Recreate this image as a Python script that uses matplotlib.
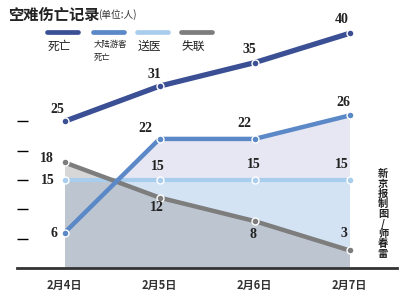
import matplotlib
matplotlib.use("Agg")
import matplotlib.pyplot as plt
from matplotlib.lines import Line2D

plt.rcParams['font.family'] = ['Noto Sans CJK SC', 'DejaVu Sans']

dates = ['2月4日', '2月5日', '2月6日', '2月7日']
deaths = [25, 31, 35, 40]
mainland_deaths = [6, 22, 22, 26]
hospital = [15, 15, 15, 15]
missing = [18, 12, 8, 3]
names = ['死亡', '大陆游客\n死亡', '送医', '失联']

c_death = '#3b4f95'
c_main = '#5b88c6'
c_hosp = '#a9cdec'
c_miss = '#7d7d7d'
colors = [c_death, c_main, c_hosp, c_miss]

fig = plt.figure(figsize=(4, 2.92), dpi=100)
ax = fig.add_axes([17 / 400, 24 / 292, 380 / 400, 264 / 292])
ax.set_xlim(-0.5, 3.5)
ax.set_ylim(0, 45)
ax.patch.set_alpha(0)

x = list(range(len(dates)))

# fills
ax.fill_between(x, mainland_deaths, 0, color='#e7e7f3', lw=0, zorder=1)
ax.fill_between(x, hospital, 0, color='#d3e3f3', lw=0, zorder=2)
ax.fill_between(x, missing, 0, color='#a0a0a0', alpha=0.42, lw=0, zorder=3)

# lines
def draw(vals, col, lw, z):
    ax.plot(x, vals, color=col, lw=lw, solid_capstyle='butt', zorder=z)
    ax.plot(x, vals, 'o', ms=5, mfc=col, mec='white', mew=1.0, zorder=z + 0.5)

draw(hospital, c_hosp, 3.0, 4)
draw(missing, c_miss, 3.2, 5)
draw(mainland_deaths, c_main, 3.2, 6)
draw(deaths, c_death, 3.8, 7)

# value labels (offsets in pixels)
off_death = [(-7, 12), (-5, 12), (-5, 13), (-8, 14)]
off_main = [(-11, -1), (-14, 10), (-10, 15), (-6, 13)]
off_hosp = [(-17, 0), (-2, 14), (-1, 16), (-8, 15)]
off_miss = [(-18, 4), (-3, -10), (-1, -13), (-6, 17)]
lab_font = dict(family='Liberation Serif', weight='bold', size=10, color='#222222',
                ha='center', va='center', zorder=10)
for vals, offs in [(deaths, off_death), (mainland_deaths, off_main),
                   (hospital, off_hosp), (missing, off_miss)]:
    for xi, v, o in zip(x, vals, offs):
        ax.annotate(str(v), (xi, v), xytext=o, textcoords='offset pixels', **lab_font)

# axes styling
for s in ['top', 'right', 'left']:
    ax.spines[s].set_visible(False)
ax.spines['bottom'].set_color('#333333')
ax.spines['bottom'].set_linewidth(2)
ax.spines['bottom'].set_zorder(11)

ax.set_xticks(x)
ax.set_xticklabels(dates, fontsize=8, fontweight='bold', color='#333333')
ax.tick_params(axis='x', which='major', length=0, pad=8)
ax.set_xticks([0.5, 1.5], minor=True)
ax.tick_params(axis='x', which='minor', direction='in', length=6, width=1.2, color='#333333')

ax.set_yticks([5, 10, 15, 20, 25])
ax.set_yticklabels([])
ax.tick_params(axis='y', direction='in', length=8, width=1.0, pad=0)
tick_cols = ['#999999', '#222222', '#111111', '#777777', '#dddddd']
for t, c in zip(ax.yaxis.get_major_ticks(), tick_cols):
    t.tick1line.set_color(c)

# title
fig.text(8 / 400, 1 - 15 / 292, '空难伤亡记录', fontsize=11, fontweight='bold',
         color='#222222', va='center', ha='left')
fig.text(98 / 400, 1 - 15 / 292, '(单位:人)', fontsize=7, color='#333333',
         va='center', ha='left')

# legend
leg_x = [47, 93, 137, 181]
for lx, c, n in zip(leg_x, colors, names):
    fig.add_artist(Line2D([lx / 400, (lx + 31) / 400], [1 - 32 / 292] * 2,
                          color=c, lw=3.4, solid_capstyle='round'))
    small = '\n' in n
    fig.text((lx + 1) / 400, 1 - 40 / 292, n, fontsize=6 if small else 8.5,
             color='#222222', va='top', ha='left', linespacing=1.5)

# credit
fig.text(383 / 400, 1 - 214 / 292, '\n'.join('新京报制图/师春雷'), fontsize=7.4,
         fontweight='bold', color='#222222', va='center', ha='center', linespacing=1.0)

fig.savefig('out.png', dpi=100)
